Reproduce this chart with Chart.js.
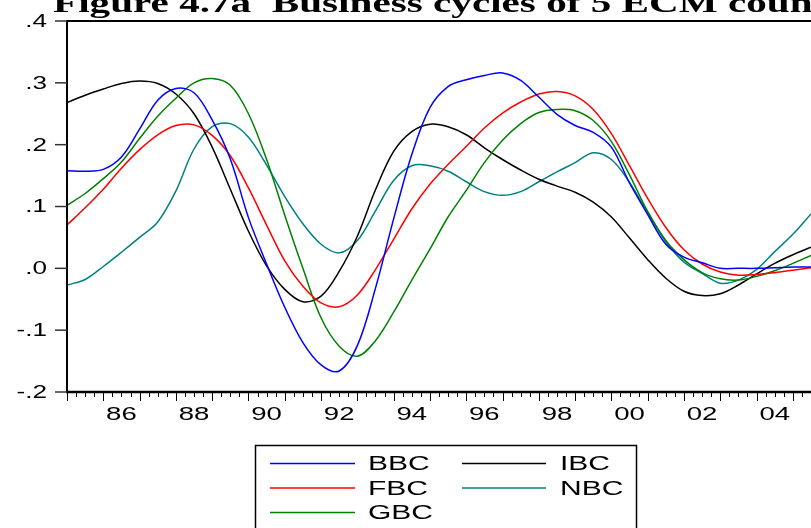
<!DOCTYPE html>
<html>
<head>
<meta charset="utf-8">
<script src="https://cdn.jsdelivr.net/npm/chart.js@4"></script>
<style>
  html, body { margin: 0; padding: 0; background: #fff; overflow: hidden; }
  canvas { display: block; }
</style>
</head>
<body>
<canvas id="c" width="811" height="528"></canvas>
<script>
// half-year observations, 1985 to mid 2005
const periods = [1985, 1985.5, 1986, 1986.5, 1987, 1987.5, 1988, 1988.5, 1989, 1989.5,
  1990, 1990.5, 1991, 1991.5, 1992, 1992.5, 1993, 1993.5, 1994, 1994.5,
  1995, 1995.5, 1996, 1996.5, 1997, 1997.5, 1998, 1998.5, 1999, 1999.5,
  2000, 2000.5, 2001, 2001.5, 2002, 2002.5, 2003, 2003.5, 2004, 2004.5,
  2005, 2005.5];

const bbc = [0.158, 0.157, 0.160, 0.180, 0.225, 0.272, 0.291, 0.284, 0.240, 0.177,
  0.082, 0.007, -0.063, -0.120, -0.156, -0.166, -0.125, -0.032, 0.080, 0.184,
  0.260, 0.294, 0.305, 0.312, 0.316, 0.304, 0.277, 0.249, 0.231, 0.220,
  0.196, 0.138, 0.087, 0.039, 0.018, 0.009, 0.000, 0.000, 0.000, 0.001,
  0.002, 0.002];

const ibc = [0.268, 0.280, 0.290, 0.299, 0.303, 0.299, 0.282, 0.250, 0.196, 0.128,
  0.060, 0.004, -0.034, -0.054, -0.045, -0.005, 0.052, 0.127, 0.189, 0.221,
  0.233, 0.229, 0.216, 0.195, 0.176, 0.159, 0.144, 0.133, 0.123, 0.107,
  0.083, 0.049, 0.014, -0.016, -0.037, -0.044, -0.041, -0.027, -0.009, 0.008,
  0.022, 0.034];

const fbc = [0.070, 0.098, 0.128, 0.162, 0.192, 0.216, 0.231, 0.232, 0.215, 0.182,
  0.130, 0.070, 0.012, -0.029, -0.056, -0.062, -0.043, -0.002, 0.047, 0.096,
  0.136, 0.168, 0.197, 0.227, 0.251, 0.269, 0.282, 0.286, 0.279, 0.257,
  0.218, 0.166, 0.113, 0.066, 0.030, 0.007, -0.006, -0.011, -0.010, -0.007,
  -0.003, 0.001];

const nbc = [-0.027, -0.018, 0.003, 0.026, 0.050, 0.075, 0.125, 0.193, 0.229, 0.234,
  0.212, 0.167, 0.116, 0.072, 0.039, 0.025, 0.045, 0.093, 0.142, 0.166,
  0.166, 0.157, 0.140, 0.124, 0.118, 0.124, 0.140, 0.156, 0.171, 0.187,
  0.176, 0.139, 0.090, 0.043, 0.010, -0.008, -0.024, -0.019, -0.002, 0.027,
  0.055, 0.088];

const gbc = [0.102, 0.121, 0.145, 0.172, 0.210, 0.246, 0.275, 0.300, 0.307, 0.296,
  0.250, 0.176, 0.086, 0.000, -0.080, -0.126, -0.142, -0.117, -0.071, -0.019,
  0.031, 0.083, 0.126, 0.171, 0.207, 0.234, 0.252, 0.257, 0.255, 0.239,
  0.205, 0.151, 0.092, 0.045, 0.014, -0.007, -0.017, -0.019, -0.013, -0.004,
  0.008, 0.021];

const xTickLabels = ['86', '88', '90', '92', '94', '96', '98', '00', '02', '04'];
const xTickYears = [1986, 1988, 1990, 1992, 1994, 1996, 1998, 2000, 2002, 2004];

const TITLE = 'Figure 4.7a  Business cycles of 5 ECM countries';
const STRETCH = 1.45; // the picture is wider than tall, glyphs look stretched

const toXY = (vals) => vals.map((v, i) => ({ x: periods[i], y: v }));

function stretchedText(ctx, text, x, y, align, sx) {
  ctx.save();
  ctx.translate(x, y);
  ctx.scale(sx, 1);
  ctx.textAlign = align;
  ctx.fillText(text, 0, 0);
  ctx.restore();
}

function fmtY(v) {
  const r = Math.round(v * 10) / 10;
  if (r === 0) return '.0';
  return r.toFixed(1).replace('0.', '.');
}

const framePlugin = {
  id: 'frame',
  afterDatasetsDraw(chart) {
    const { ctx, chartArea: a, scales } = chart;
    const xs = scales.x, ys = scales.y;
    ctx.save();
    ctx.strokeStyle = '#000';

    // frame
    ctx.lineWidth = 2;
    ctx.beginPath();
    ctx.moveTo(a.left, a.top); ctx.lineTo(a.right, a.top);
    ctx.moveTo(a.left, a.top - 1); ctx.lineTo(a.left, a.bottom + 1);
    ctx.stroke();
    ctx.lineWidth = 2.5;
    ctx.beginPath();
    ctx.moveTo(a.left - 1, a.bottom); ctx.lineTo(a.right, a.bottom);
    ctx.stroke();

    // y ticks and labels
    ctx.lineWidth = 1.5;
    ctx.strokeStyle = '#333';
    ctx.fillStyle = '#000';
    ctx.font = '18px "Liberation Sans", Arial, sans-serif';
    ctx.textBaseline = 'middle';
    ys.ticks.forEach((t) => {
      const y = ys.getPixelForValue(t.value);
      ctx.beginPath();
      ctx.moveTo(a.left - 12, y); ctx.lineTo(a.left, y);
      ctx.stroke();
      stretchedText(ctx, fmtY(t.value), a.left - 20, y + 1, 'right', STRETCH);
    });

    // x ticks: quarters short, years long
    ctx.lineWidth = 1;
    ctx.strokeStyle = '#000';
    for (let k = 0; k <= 82; k++) {
      const t = 1985 + k / 4;
      const x = Math.round(xs.getPixelForValue(t)) + 0.5;
      if (x > a.right + 1) break;
      const len = k % 4 === 0 ? 9 : 5;
      ctx.beginPath();
      ctx.moveTo(x, a.bottom); ctx.lineTo(x, a.bottom + len);
      ctx.stroke();
    }
    ctx.font = '19px "Liberation Sans", Arial, sans-serif';
    xTickYears.forEach((yr, i) => {
      const x = xs.getPixelForValue(yr + 0.5);
      stretchedText(ctx, xTickLabels[i], x, a.bottom + 23, 'center', STRETCH);
    });

    // title (cut by the top edge)
    ctx.font = 'bold 28px "Liberation Serif", "Times New Roman", serif';
    ctx.textBaseline = 'alphabetic';
    stretchedText(ctx, TITLE, 53, 12, 'left', 1.47);

    // legend box
    ctx.lineWidth = 1.5;
    ctx.strokeStyle = '#000';
    ctx.strokeRect(255.5, 445.5, 381, 120);
    const cols = [{ x0: 270, x1: 355, tx: 368 }, { x0: 462, x1: 546, tx: 560 }];
    const rows = [463.5, 488, 512.5];
    const order = [[0, 0], [0, 1], [0, 2], [1, 0], [1, 1]];
    ctx.font = '20px "Liberation Sans", Arial, sans-serif';
    ctx.textBaseline = 'middle';
    chart.data.datasets.forEach((ds, i) => {
      const [c, r] = order[i];
      const col = cols[c], y = rows[r];
      ctx.strokeStyle = ds.borderColor;
      ctx.lineWidth = 1.5;
      ctx.beginPath();
      ctx.moveTo(col.x0, y); ctx.lineTo(col.x1, y);
      ctx.stroke();
      ctx.fillStyle = '#000';
      stretchedText(ctx, ds.label, col.tx, y + 1, 'left', 1.5);
    });
    ctx.restore();
  },
};

const line = (label, vals, color) => ({
  label, data: toXY(vals), borderColor: color, borderWidth: 1.5,
  pointRadius: 0, tension: 0.35, fill: false,
});

new Chart(document.getElementById('c'), {
  type: 'line',
  data: {
    datasets: [
      line('BBC', bbc, '#0000ff'),
      line('FBC', fbc, '#ff0000'),
      line('GBC', gbc, '#008000'),
      line('IBC', ibc, '#000000'),
      line('NBC', nbc, '#008080'),
    ],
  },
  options: {
    responsive: false,
    animation: false,
    layout: { padding: { top: 21, left: 0, right: 0, bottom: 0 } },
    plugins: { legend: { display: false }, tooltip: { enabled: false }, title: { display: false } },
    scales: {
      x: {
        type: 'linear', min: 1985, max: 2005.5,
        grid: { display: false }, border: { display: false },
        ticks: { display: false },
        afterFit: (s) => { s.height = 136; },
      },
      y: {
        min: -0.2, max: 0.4,
        grid: { display: false }, border: { display: false },
        ticks: { display: false, stepSize: 0.1 },
        afterFit: (s) => { s.width = 67; },
      },
    },
  },
  plugins: [framePlugin],
});
</script>
</body>
</html>
